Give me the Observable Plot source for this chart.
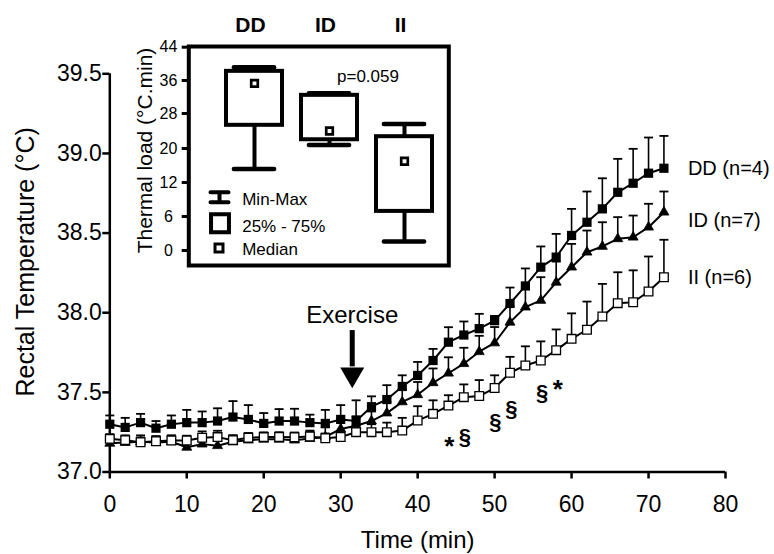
<!DOCTYPE html>
<html><head><meta charset="utf-8">
<script src="https://cdn.jsdelivr.net/npm/d3@7"></script>
<script src="https://cdn.jsdelivr.net/npm/@observablehq/plot@0.6"></script>
<style>
body{margin:0;background:#fff;}
#wrap{position:relative;width:774px;height:554px;background:#fff;}
#wrap svg{position:absolute;max-width:none;}
</style></head><body><div id="wrap"></div>
<script>
// ---- main chart data ----
const time = [0,2,4,6,8,10,12,14,16,18,20,22,24,26,28,30,32,34,36,38,40,42,44,46,48,50,52,54,56,58,60,62,64,66,68,70,72];
const ddMean = [37.30,37.28,37.31,37.275,37.30,37.31,37.31,37.32,37.345,37.33,37.305,37.32,37.32,37.31,37.305,37.33,37.32,37.41,37.455,37.537,37.606,37.70,37.815,37.86,37.90,37.95,38.058,38.168,38.286,38.349,38.485,38.568,38.652,38.756,38.813,38.876,38.907];
const ddErr  = [0.055,0.06,0.055,0.045,0.055,0.08,0.07,0.08,0.10,0.09,0.065,0.075,0.077,0.05,0.085,0.09,0.13,0.065,0.09,0.07,0.085,0.073,0.094,0.085,0.093,0.03,0.10,0.11,0.13,0.146,0.167,0.193,0.192,0.21,0.216,0.224,0.203];
const idMean = [37.18,37.185,37.19,37.185,37.19,37.155,37.175,37.165,37.19,37.20,37.205,37.205,37.20,37.21,37.22,37.27,37.29,37.32,37.37,37.44,37.485,37.56,37.62,37.68,37.755,37.81,37.94,38.035,38.077,38.191,38.286,38.38,38.416,38.464,38.474,38.537,38.631];
const idErr  = [0.04,0.04,0.04,0.04,0.04,0.05,0.04,0.05,0.04,0.04,0.04,0.04,0.04,0.05,0.06,0.06,0.06,0.06,0.07,0.08,0.08,0.09,0.10,0.10,0.10,0.10,0.10,0.12,0.146,0.13,0.146,0.136,0.152,0.136,0.136,0.147,0.13];
const iiMean = [37.208,37.20,37.187,37.193,37.198,37.198,37.215,37.219,37.20,37.215,37.219,37.22,37.218,37.223,37.212,37.22,37.25,37.25,37.25,37.26,37.323,37.365,37.417,37.47,37.477,37.527,37.623,37.669,37.70,37.765,37.836,37.893,37.976,38.06,38.066,38.133,38.223];
const iiErr  = [0.03,0.03,0.03,0.03,0.03,0.03,0.04,0.04,0.03,0.03,0.03,0.03,0.03,0.03,0.03,0.03,0.04,0.05,0.06,0.08,0.09,0.085,0.065,0.08,0.10,0.08,0.10,0.12,0.12,0.13,0.16,0.177,0.205,0.194,0.20,0.22,0.235];
const seriesNames = ["DD","ID","II"];
const seriesLabels = ["DD (n=4)","ID (n=7)","II (n=6)"];
const xTicks = [0,10,20,30,40,50,60,70,80];
const yTicks = [37.0,37.5,38.0,38.5,39.0,39.5];

// annotations (data coordinates)
const exerciseAt = {t:31.5, textY:37.934, shaftTop:37.888, shaftBottom:37.66, head:37.612};
const statMarks = [
  {t:44.12, v:37.204, s:"*"},
  {t:46.13, v:37.220, s:"§"},
  {t:50.09, v:37.314, s:"§"},
  {t:52.17, v:37.395, s:"§"},
  {t:56.16, v:37.496, s:"§"},
  {t:58.21, v:37.559, s:"*"}
];

// ---- inset data ----
const groups = ["DD","ID","II"];
const minV   = [15.2, 20.8, 1.6];
const q1V    = [25.3, 22.0, 6.9];
const medV   = [35.3, 24.0, 17.0];
const q3V    = [38.2, 32.4, 22.7];
const maxV   = [39.2, 32.9, 25.6];
const insetTicks = [0,6,12,20,28,36,44];
const legendLabels = ["Min-Max","25% - 75%","Median"];
const pText = "p=0.059";

// ---- build tables ----
const means = {DD: ddMean, ID: idMean, II: iiMean};
const errs = {DD: ddErr, ID: idErr, II: iiErr};
const rows = seriesNames.flatMap(g => time.map((t,i) => ({group:g, t, mean:means[g][i], top:means[g][i]+errs[g][i]})));
const lastRows = seriesNames.map((g,i) => ({group:g, label:seriesLabels[i], t:time[time.length-1], v:means[g][time.length-1]}));
const boxes = groups.map((g,i) => ({group:g, min:minV[i], q1:q1V[i], med:medV[i], q3:q3V[i], max:maxV[i]}));

const capSymbol = {draw(ctx){ctx.moveTo(-4.5,0); ctx.lineTo(4.5,0);}};
const whiskerSymbol = {draw(ctx){ctx.moveTo(-9,-5); ctx.lineTo(9,-5); ctx.moveTo(0,-5); ctx.lineTo(0,5); ctx.moveTo(-9,5); ctx.lineTo(9,5);}};
const FONT = "'Liberation Sans', Arial, Helvetica, sans-serif";

const byG = g => rows.filter(d => d.group === g);

const main = Plot.plot({
  width:774, height:554,
  marginLeft:109.3, marginRight:49, marginTop:73.3, marginBottom:82.5,
  style:{fontFamily:FONT, background:"transparent", color:"black", overflow:"visible"},
  x:{domain:[0,80]},
  y:{domain:[37,39.5]},
  marks:[
    Plot.axisY({ticks:yTicks, tickFormat:d3.format(".1f"), tickSize:7, tickPadding:1, fontSize:23, strokeWidth:2.5, label:null}),
    Plot.axisX({ticks:xTicks, tickSize:7, tickPadding:17, fontSize:23, strokeWidth:2.5, label:null}),
    Plot.ruleX([0], {strokeWidth:2.5}),
    Plot.ruleY([37], {strokeWidth:2.5}),
    // error bars
    Plot.ruleX(rows, {x:"t", y1:"mean", y2:"top", strokeWidth:1.6}),
    Plot.dot(rows, {x:"t", y:"top", symbol:capSymbol, stroke:"black", strokeWidth:1.8, fill:"none"}),
    // lines
    ...seriesNames.map(g => Plot.line(byG(g), {x:"t", y:"mean", stroke:"black", strokeWidth:2})),
    // markers
    Plot.dot(byG("ID"), {x:"t", y:"mean", symbol:"triangle", r:3.7, fill:"black", stroke:"black", strokeWidth:0.8}),
    Plot.dot(byG("II"), {x:"t", y:"mean", symbol:"square", r:4.9, fill:"white", stroke:"black", strokeWidth:1.3}),
    Plot.dot(byG("DD"), {x:"t", y:"mean", symbol:"square", r:5.2, fill:"black"}),
    // series labels
    Plot.text(lastRows.filter(d => d.group !== "ID"), {x:"t", y:"v", text:"label", textAnchor:"start", dx:24, fontSize:20}),
    Plot.text(lastRows.filter(d => d.group === "ID"), {x:"t", y:"v", text:"label", textAnchor:"start", dx:24, dy:8, fontSize:20}),
    // exercise annotation
    Plot.text([exerciseAt], {x:"t", y:"textY", text:() => "Exercise", fontSize:24, lineAnchor:"bottom"}),
    Plot.ruleX([exerciseAt], {x:"t", y1:"shaftTop", y2:"shaftBottom", strokeWidth:5}),
    Plot.dot([exerciseAt], {x:"t", y:"head", symbol:"triangle", r:8.9, rotate:180, fill:"black"}),
    // significance marks
    Plot.text(statMarks.filter(d => d.s === "§"), {x:"t", y:"v", text:"s", fontSize:22, fontWeight:"bold"}),
    Plot.text(statMarks.filter(d => d.s === "*"), {x:"t", y:"v", text:"s", fontSize:26, fontWeight:"bold", dy:7}),
    // axis titles
    Plot.text(["Rectal Temperature (°C)"], {frameAnchor:"left", textAnchor:"middle", lineAnchor:"middle", rotate:-90, dx:-84, dy:-11, fontSize:25}),
    Plot.text(["Time (min)"], {frameAnchor:"bottom", lineAnchor:"middle", dy:68, fontSize:24})
  ]
});

const inset = Plot.plot({
  width:330, height:275,
  marginLeft:58.3, marginRight:11.7, marginTop:46, marginBottom:10,
  style:{fontFamily:FONT, background:"transparent", color:"black", overflow:"visible"},
  x:{type:"band", domain:groups, range:[87,312], paddingInner:0.25, paddingOuter:0.125, axis:null},
  y:{type:"linear", domain:insetTicks, range:[250,216,182,148,113,80,46.7], axis:null},
  marks:[
    Plot.axisY({ticks:insetTicks, tickSize:6.6, tickPadding:13.7, textAnchor:"middle", fontSize:16, strokeWidth:3, label:null}),
    Plot.ruleX(boxes, {x:"group", y1:"q3", y2:"max", strokeWidth:4}),
    Plot.ruleX(boxes, {x:"group", y1:"min", y2:"q1", strokeWidth:4}),
    Plot.barY(boxes, {x:"group", y1:"q1", y2:"q3", fill:"white", stroke:"black", strokeWidth:4}),
    Plot.tickY(boxes, {x:"group", y:"max", strokeWidth:4.5, strokeLinecap:"round", insetLeft:7.9, insetRight:7.9}),
    Plot.tickY(boxes, {x:"group", y:"min", strokeWidth:4.5, strokeLinecap:"round", insetLeft:7.9, insetRight:7.9}),
    Plot.dot(boxes, {x:"group", y:"med", symbol:"square", r:3.7, fill:"white", stroke:"black", strokeWidth:2.7}),
    Plot.frame({strokeWidth:4}),
    Plot.text(groups, {x:d => d, frameAnchor:"top", dy:-15, dx:-4, lineAnchor:"bottom", fontWeight:"bold", fontSize:21}),
    Plot.text([pText], {frameAnchor:"top-left", dx:179.2, dy:29.7, textAnchor:"middle", lineAnchor:"middle", fontSize:17}),
    // legend
    Plot.dot([legendLabels[0]], {frameAnchor:"top-left", dx:30.7, dy:150.7, symbol:whiskerSymbol, stroke:"black", strokeWidth:4, fill:"none", strokeLinecap:"round"}),
    Plot.dot([legendLabels[1]], {frameAnchor:"top-left", dx:31.2, dy:176.8, symbol:"square", r:10.1, fill:"white", stroke:"black", strokeWidth:4}),
    Plot.dot([legendLabels[2]], {frameAnchor:"top-left", dx:30.2, dy:201.5, symbol:"square", r:4.5, fill:"white", stroke:"black", strokeWidth:3}),
    Plot.text([legendLabels[0]], {frameAnchor:"top-left", dx:53.4, dy:153, textAnchor:"start", lineAnchor:"middle", fontSize:17}),
    Plot.text([legendLabels[1]], {frameAnchor:"top-left", dx:53.4, dy:179.7, textAnchor:"start", lineAnchor:"middle", fontSize:17}),
    Plot.text([legendLabels[2]], {frameAnchor:"top-left", dx:53.4, dy:203.3, textAnchor:"start", lineAnchor:"middle", fontSize:17}),
    Plot.text(["Thermal load (°C.min)"], {frameAnchor:"left", textAnchor:"middle", lineAnchor:"middle", rotate:-90, dx:-43.3, dy:-5.5, fontSize:21})
  ]
});

main.style.left = "0px"; main.style.top = "0px";
inset.style.left = "130px"; inset.style.top = "0px";
document.getElementById("wrap").append(main, inset);
</script></body></html>
